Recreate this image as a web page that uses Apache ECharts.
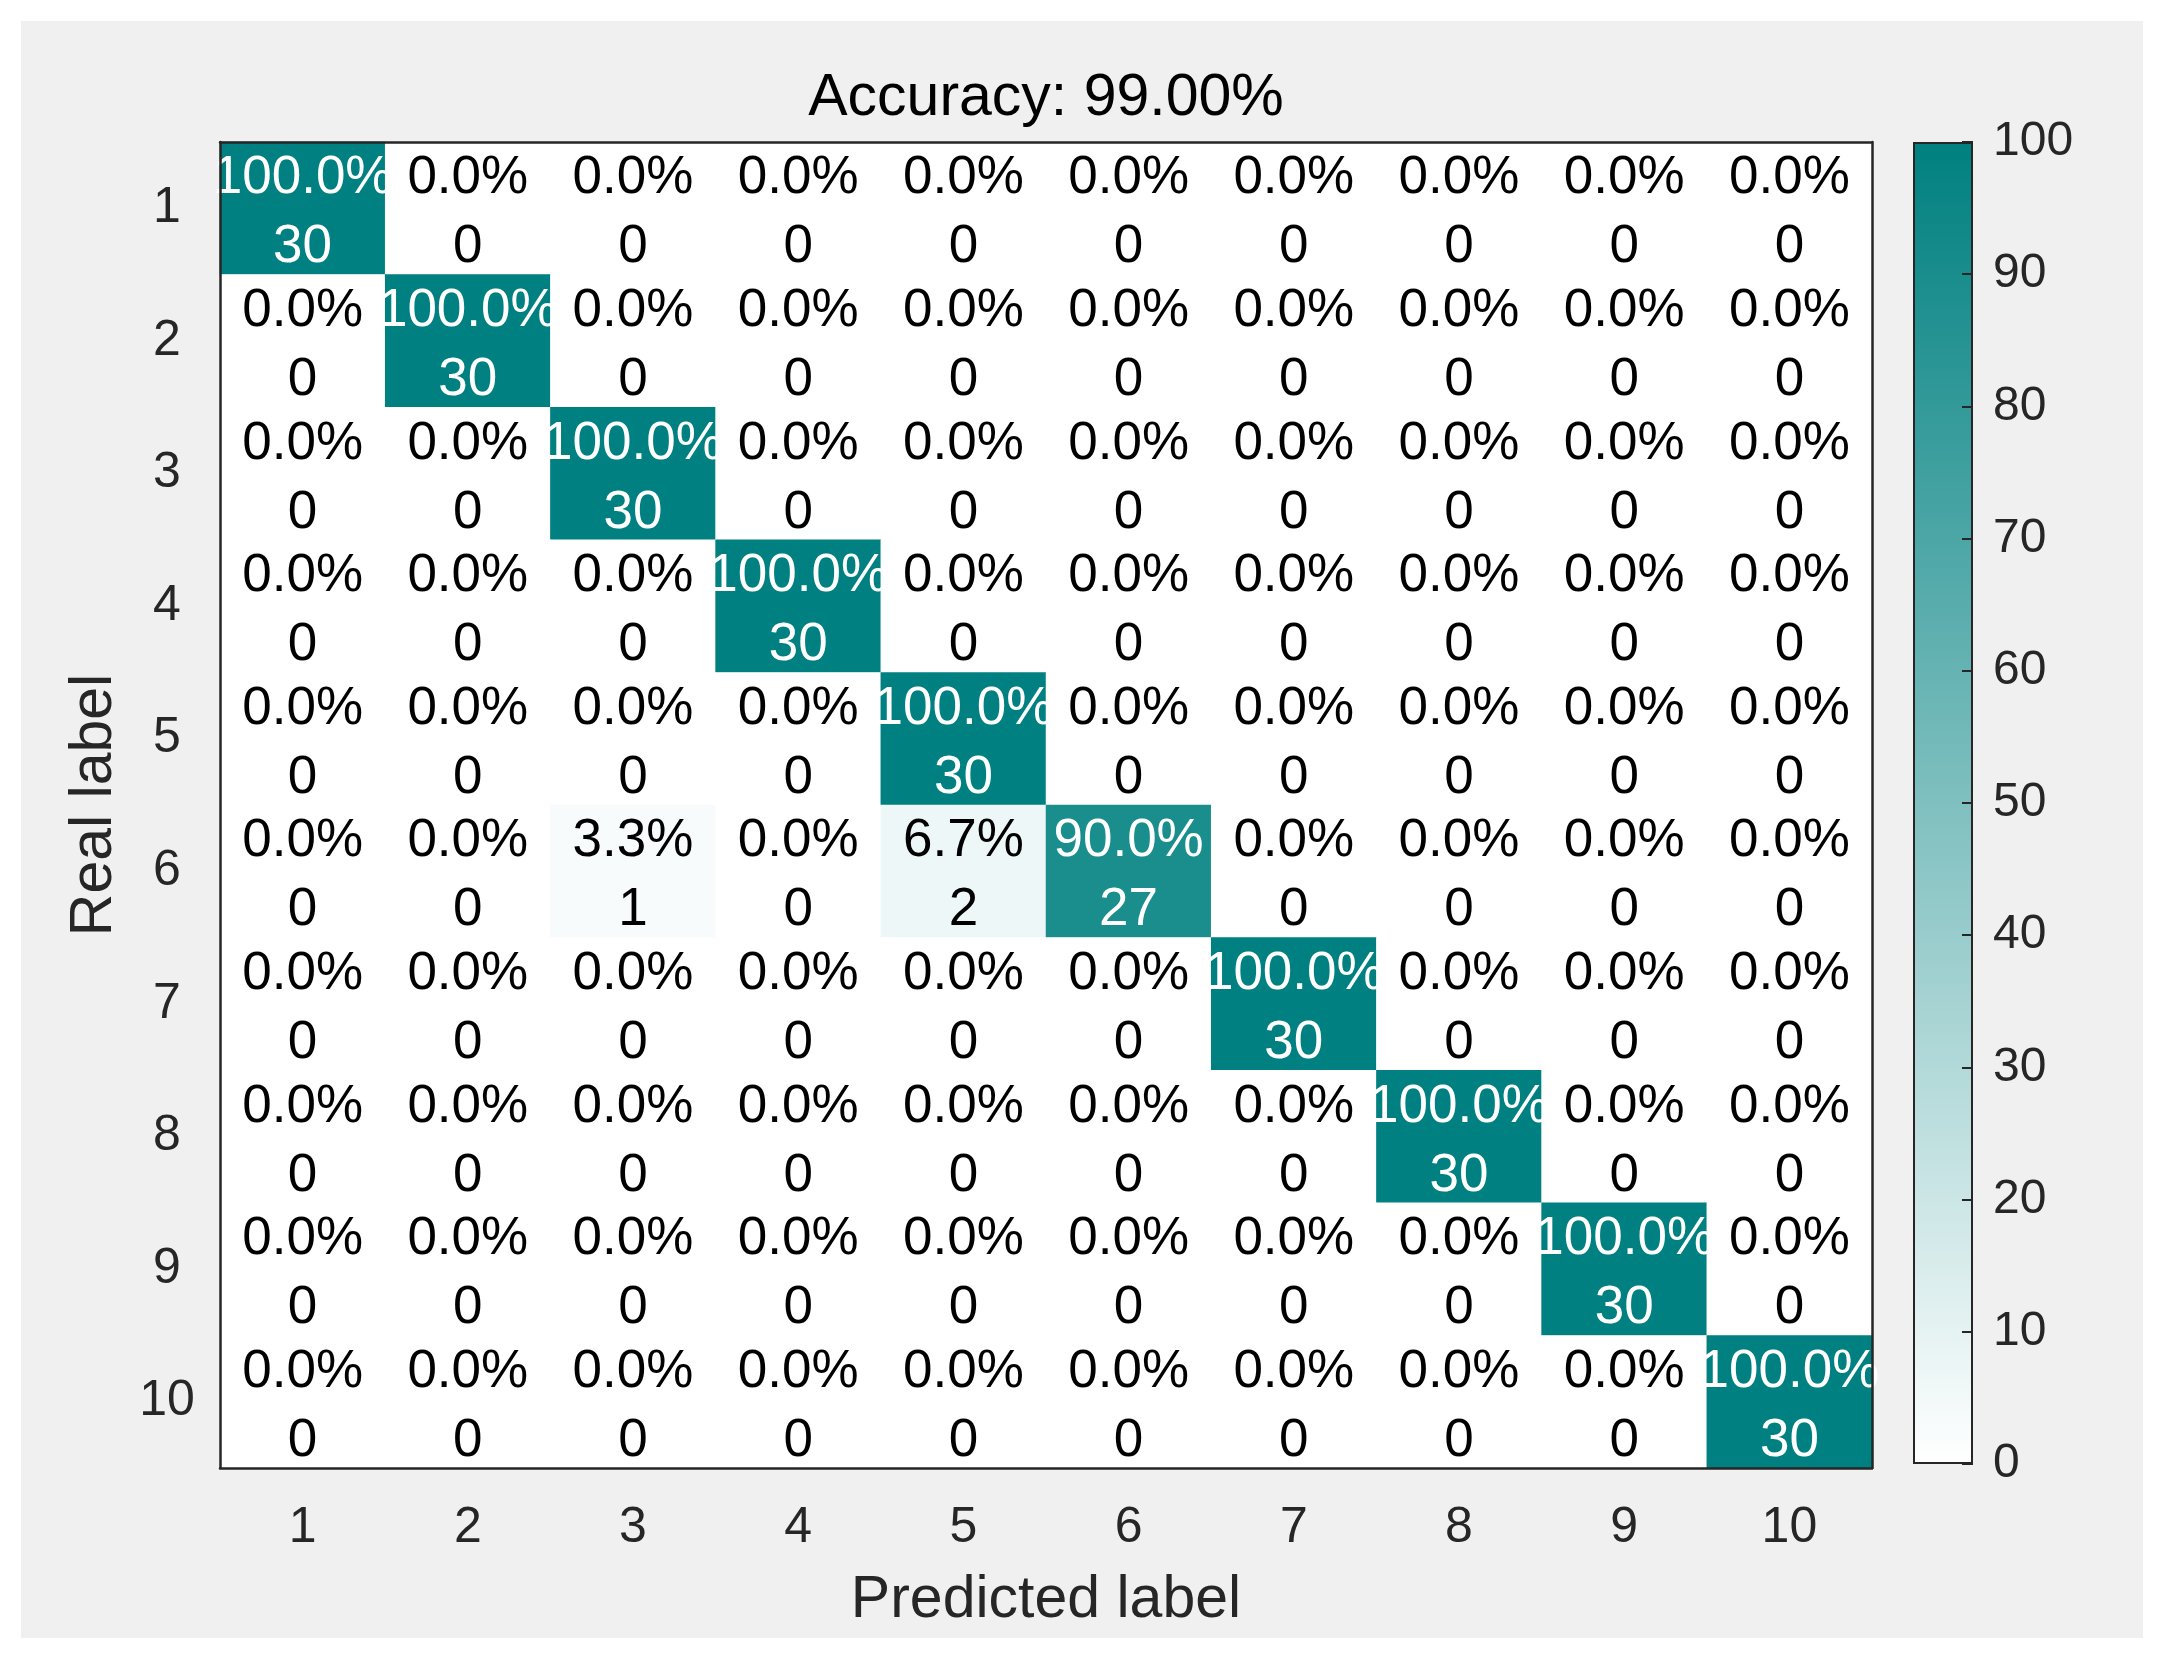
<!DOCTYPE html>
<html>
<head>
<meta charset="utf-8">
<script src="https://cdn.jsdelivr.net/npm/echarts@6/dist/echarts.min.js"></script>
<style>
html, body { margin: 0; padding: 0; background: #ffffff; width: 2157px; height: 1655px; overflow: hidden; }
#chart { position: absolute; left: 21px; top: 21px; width: 2122px; height: 1617px; }
</style>
</head>
<body>
<div id="chart"></div>
<script>
// ---- data ----
const predictedLabels = ['1','2','3','4','5','6','7','8','9','10'];
const realLabels = ['1','2','3','4','5','6','7','8','9','10'];
// counts[row = real label][col = predicted label]
const row1  = [30, 0, 0, 0, 0, 0, 0, 0, 0, 0];
const row2  = [0, 30, 0, 0, 0, 0, 0, 0, 0, 0];
const row3  = [0, 0, 30, 0, 0, 0, 0, 0, 0, 0];
const row4  = [0, 0, 0, 30, 0, 0, 0, 0, 0, 0];
const row5  = [0, 0, 0, 0, 30, 0, 0, 0, 0, 0];
const row6  = [0, 0, 1, 0, 2, 27, 0, 0, 0, 0];
const row7  = [0, 0, 0, 0, 0, 0, 30, 0, 0, 0];
const row8  = [0, 0, 0, 0, 0, 0, 0, 30, 0, 0];
const row9  = [0, 0, 0, 0, 0, 0, 0, 0, 30, 0];
const row10 = [0, 0, 0, 0, 0, 0, 0, 0, 0, 30];
const counts = [row1, row2, row3, row4, row5, row6, row7, row8, row9, row10];
const accuracyText = 'Accuracy: 99.00%';
const colorbarMin = 0, colorbarMax = 100, colorbarStep = 10;

// ---- build heatmap data ----
const heatData = [];
counts.forEach((row, r) => {
  const total = row.reduce((a, b) => a + b, 0);
  row.forEach((c, p) => {
    const pct = total ? c / total * 100 : 0;
    heatData.push({
      value: [p, r, pct, c],
      label: { color: pct >= 50 ? '#ffffff' : '#000000' }
    });
  });
});

const FONT = '"Liberation Sans", Arial, Helvetica, sans-serif';
const AX = '#262626';
const TEAL = '#008080';

const chart = echarts.init(document.getElementById('chart'), null, { renderer: 'canvas' });
chart.setOption({
  backgroundColor: '#f0f0f0',
  animation: false,
  textStyle: { fontFamily: FONT },
  title: {
    text: accuracyText,
    left: 1025, top: 48, textAlign: 'center', padding: 0,
    textStyle: { fontFamily: FONT, fontSize: 59, fontWeight: 'normal', color: '#000000' }
  },
  grid: [
    { left: 199, top: 121, width: 1652, height: 1326 },
    { left: 1892, top: 121, width: 60, height: 1322 }
  ],
  visualMap: {
    show: false, seriesIndex: 0, dimension: 2,
    min: colorbarMin, max: colorbarMax,
    inRange: { color: ['#ffffff', TEAL] }
  },
  xAxis: [
    {
      gridIndex: 0, type: 'category', data: predictedLabels, position: 'bottom', z: 10,
      name: 'Predicted label', nameLocation: 'middle', nameGap: 103,
      nameTextStyle: { fontFamily: FONT, fontSize: 59, color: AX },
      axisLine: { show: true, lineStyle: { color: AX, width: 2.5 } },
      axisTick: { show: false },
      axisLabel: { fontFamily: FONT, fontSize: 50, color: AX, margin: 35 },
      splitLine: { show: false }
    },
    {
      gridIndex: 0, type: 'category', data: predictedLabels, position: 'top', z: 10,
      axisLine: { show: true, lineStyle: { color: AX, width: 2.5 } },
      axisTick: { show: false }, axisLabel: { show: false }, splitLine: { show: false }
    },
    {
      gridIndex: 1, type: 'category', data: ['cb'], show: false
    }
  ],
  yAxis: [
    {
      gridIndex: 0, type: 'category', data: realLabels, inverse: true, position: 'left', z: 10,
      name: 'Real label', nameLocation: 'middle', nameGap: 96, nameRotate: 90,
      nameTextStyle: { fontFamily: FONT, fontSize: 59, color: AX },
      axisLine: { show: true, lineStyle: { color: AX, width: 2.5 } },
      axisTick: { show: false },
      axisLabel: { fontFamily: FONT, fontSize: 50, color: AX, margin: 53, align: 'center',
                   padding: [12, 0, 0, 0] },
      splitLine: { show: false }
    },
    {
      gridIndex: 0, type: 'category', data: realLabels, inverse: true, position: 'right', z: 10,
      axisLine: { show: true, lineStyle: { color: AX, width: 2.5 } },
      axisTick: { show: false }, axisLabel: { show: false }, splitLine: { show: false }
    },
    {
      gridIndex: 1, type: 'value', min: colorbarMin, max: colorbarMax, interval: colorbarStep,
      position: 'right', z: 10,
      axisLine: { show: false },
      axisTick: { show: true, inside: true, length: 11, lineStyle: { color: AX, width: 2 } },
      axisLabel: { fontFamily: FONT, fontSize: 48, color: AX, margin: 20, padding: [12, 0, 0, 0] },
      splitLine: { show: false }
    }
  ],
  series: [
    {
      type: 'heatmap', xAxisIndex: 0, yAxisIndex: 0,
      data: heatData,
      label: {
        show: true, fontFamily: FONT, fontSize: 53, lineHeight: 69, offset: [0, 5],
        formatter: p => p.value[2].toFixed(1) + '%\n' + p.value[3]
      },
      itemStyle: { borderWidth: 0 },
      emphasis: { disabled: true }
    },
    {
      type: 'bar', xAxisIndex: 2, yAxisIndex: 2,
      data: [colorbarMax], barWidth: '100%', silent: true,
      itemStyle: {
        color: new echarts.graphic.LinearGradient(0, 0, 0, 1, [
          { offset: 0, color: TEAL }, { offset: 1, color: '#ffffff' }
        ]),
        borderColor: AX, borderWidth: 2
      }
    }
  ]
});
</script>
</body>
</html>
